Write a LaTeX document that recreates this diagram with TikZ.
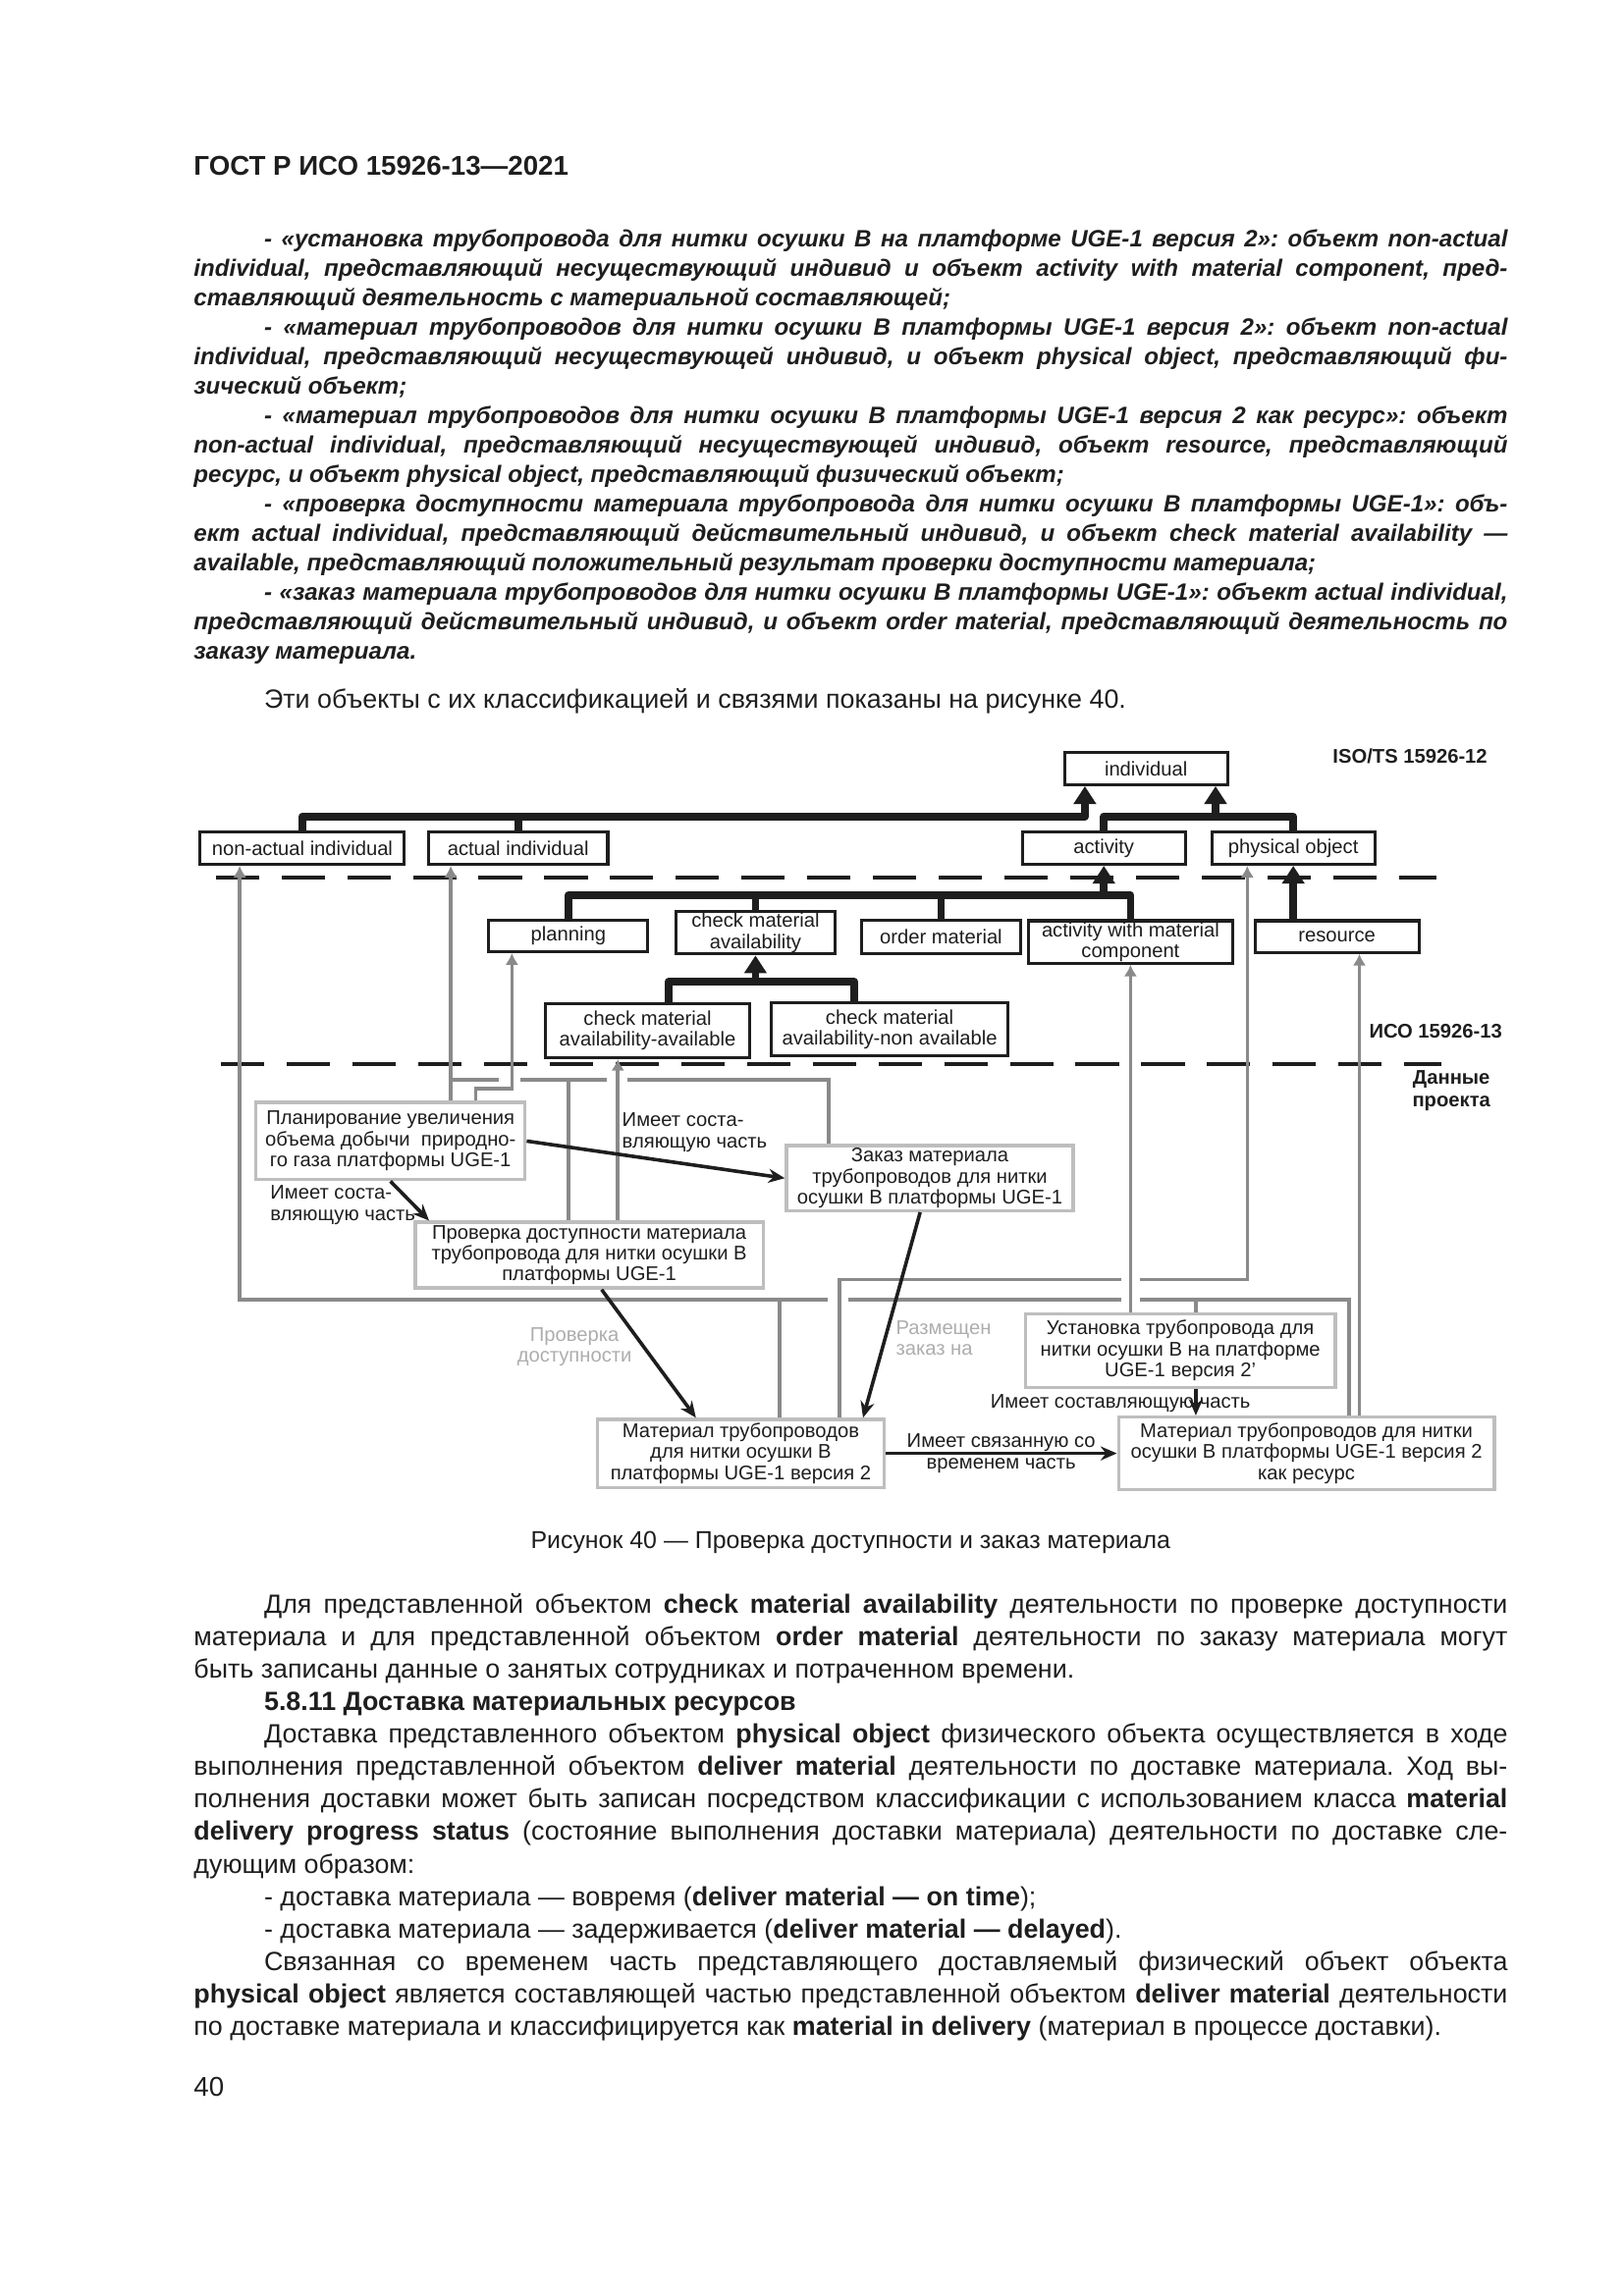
\documentclass[tikz,border=0pt]{standalone}
\usepackage{fontspec}
\setmainfont{Liberation Sans}
\usetikzlibrary{arrows.meta}
\frenchspacing
\definecolor{ink}{HTML}{1E1E1E}
\definecolor{linegray}{HTML}{8A8A8A}
\definecolor{boxgray}{HTML}{BEBEBE}
\definecolor{labgray}{HTML}{ADADAD}
\newcommand{\indt}{\hspace*{9.1mm}}
\tikzset{
  hdr/.style={font=\bfseries\fontsize{10}{12}\selectfont,text=ink,anchor=base west,inner sep=0pt},
  bodytxt/.style={font=\fontsize{9.7}{11.96}\selectfont,text=ink,text width=169.9mm,align=justify,anchor=base west,inner sep=0pt,
    execute at begin node={\hyphenpenalty=10000\exhyphenpenalty=10000}},
  itemtxt/.style={bodytxt,font=\bfseries\itshape\fontsize{8.7}{10.85}\selectfont},
  captxt/.style={font=\fontsize{9}{11}\selectfont,text=ink,anchor=base,inner sep=0pt},
  clsbox/.style={draw=ink,line width=1.1pt,fill=white,font=\fontsize{7.3}{7.7}\selectfont,text=ink,align=center,inner sep=0pt},
  instbox/.style={draw=boxgray,line width=1.2pt,fill=white,font=\fontsize{7.3}{7.7}\selectfont,text=ink,align=center,inner sep=0pt},
  lvltxt/.style={font=\bfseries\fontsize{7.3}{8.4}\selectfont,text=ink,inner sep=0pt},
  reltxt/.style={font=\fontsize{7.3}{7.7}\selectfont,text=ink,align=left,inner sep=0pt},
  divider/.style={draw=ink,line width=1.45pt,dash pattern=on 5.6mm off 2.9mm},
  genbar/.style={draw=ink,line width=2.8pt,line join=round},
  genarr/.style={genbar,-{Triangle[length=2.3mm,width=2.8mm]}},
  gline/.style={draw=linegray,line width=1.3pt},
  isa/.style={gline,-{Latex[length=1.5mm,width=1.7mm]}},
  arr/.style={draw=ink,line width=1.3pt,-{Stealth[length=2.1mm,width=1.8mm]}}
}
\begin{document}
\begin{tikzpicture}[x=1mm,y=-1mm]
\path[use as bounding box] (0,0) rectangle (210,297);

% text above the figure
\node[hdr] (gost) at (25.0,22.7) {ГОСТ Р ИСО 15926-13—2021};
\node[itemtxt] (items) at (25.0,31.9) {%
\indt - «установка трубопровода для нитки осушки В на платформе UGE-1 версия 2»: объект non-actual\linebreak individual, представляющий несуществующий индивид и объект activity with material component, пред-\linebreak ставляющий деятельность с материальной составляющей;\par
\indt - «материал трубопроводов для нитки осушки В платформы UGE-1 версия 2»: объект non-actual\linebreak individual, представляющий несуществующей индивид, и объект physical object, представляющий фи-\linebreak зический объект;\par
\indt - «материал трубопроводов для нитки осушки В платформы UGE-1 версия 2 как ресурс»: объект\linebreak non-actual individual, представляющий несуществующей индивид, объект resource, представляющий\linebreak ресурс, и объект physical object, представляющий физический объект;\par
\indt - «проверка доступности материала трубопровода для нитки осушки В платформы UGE-1»: объ-\linebreak ект actual individual, представляющий действительный индивид, и объект check material availability —\linebreak available, представляющий положительный результат проверки доступности материала;\par
\indt - «заказ материала трубопроводов для нитки осушки В платформы UGE-1»: объект actual individual,\linebreak представляющий действительный индивид, и объект order material, представляющий деятельность по\linebreak заказу материала.};
\node[bodytxt] (intro) at (25.0,91.6) {\indt Эти объекты с их классификацией и связями показаны на рисунке 40.};

% levels
\draw[divider] (27.9,113.5) -- (185.8,113.5);
\draw[divider] (28.6,137.7) -- (186.4,137.7);
\node[lvltxt,anchor=west] (lvl12) at (172.3,97.8) {ISO/TS 15926-12};
\node[lvltxt,anchor=west] (lvl13) at (177.0,133.35) {ИСО 15926-13};
\node[lvltxt,align=center] (lvlprj) at (187.7,141.05) {Данные\\проекта};

% classes
\node[clsbox,minimum width=21.1mm,minimum height=4.2mm] (individual) at (148.2,99.4) {individual};
\node[clsbox,minimum width=26.4mm,minimum height=4.2mm] (nonactual) at (39.1,109.7) {non-actual individual};
\node[clsbox,minimum width=23.2mm,minimum height=4.2mm] (actualind) at (67.0,109.7) {actual individual};
\node[clsbox,minimum width=21.1mm,minimum height=4.2mm] (activity) at (142.75,109.7) {activity};
\node[clsbox,minimum width=21.1mm,minimum height=4.2mm] (physobj) at (167.25,109.7) {physical object};
\node[clsbox,minimum width=20.6mm,minimum height=4.1mm] (planning) at (73.5,121.05) {planning};
\node[clsbox,minimum width=20.6mm,minimum height=5.5mm] (checkav) at (97.7,120.65) {check material\\availability};
\node[clsbox,minimum width=20.6mm,minimum height=4.3mm] (ordermat) at (121.7,121.15) {order material};
\node[clsbox,minimum width=26.4mm,minimum height=5.5mm] (awmc) at (146.2,121.85) {activity with material\\component};
\node[clsbox,minimum width=21.2mm,minimum height=4.1mm] (resource) at (172.9,121.15) {resource};
\node[clsbox,minimum width=26.5mm,minimum height=7.0mm] (cmaavail) at (83.75,133.3) {check material\\availability-available};
\node[clsbox,minimum width=30.7mm,minimum height=6.8mm] (cmanon) at (115.05,133.15) {check material\\availability-non available};

% specialization
\coordinate (topL) at (140.3,105.6);
\coordinate (topR) at (157.2,105.6);
\coordinate (midY) at (0,115.8);
\coordinate (lowY) at (0,127.0);
\draw[genarr] (nonactual.north) |- (topL) -- (topL |- individual.south);
\draw[genbar] (actualind.north) -- (actualind.north |- topL);
\draw[genbar] (activity.north) |- (physobj.north |- topR) -- (physobj.north);
\draw[genarr] (topR) -- (topR |- individual.south);
\draw[genbar] (planning.north) |- (awmc.north |- midY) -- (awmc.north);
\draw[genbar] (checkav.north) -- (checkav.north |- midY);
\draw[genbar] (ordermat.north) -- (ordermat.north |- midY);
\draw[genarr] (activity.south |- midY) -- (activity.south);
\draw[genarr] (physobj.south |- resource.north) -- (physobj.south);
\draw[genbar] ([xshift=2.7mm]cmaavail.north) |- ([xshift=-4.6mm]cmanon.north |- lowY) -- ([xshift=-4.6mm]cmanon.north);
\draw[genarr] (checkav.south |- lowY) -- (checkav.south);

% project data
\node[instbox,minimum width=34.8mm,minimum height=10.0mm] (plan) at (50.5,147.6) {Планирование увеличения\\объема добычи\ \ природно-\\го газа платформы UGE-1};
\node[instbox,minimum width=45.0mm,minimum height=8.5mm] (check) at (76.2,162.35) {Проверка доступности материала\\трубопровода для нитки осушки В\\платформы UGE-1};
\node[instbox,minimum width=37.1mm,minimum height=8.4mm] (order) at (120.25,152.4) {Заказ материала\\трубопроводов для нитки\\осушки В платформы UGE-1};
\node[instbox,minimum width=40.1mm,minimum height=9.5mm] (install) at (152.65,174.7) {Установка трубопровода для\\нитки осушки В на платформе\\UGE-1 версия 2'};
\node[instbox,minimum width=37.0mm,minimum height=8.8mm] (mat) at (95.8,188.0) {Материал трубопроводов\\для нитки осушки В\\платформы UGE-1 версия 2};
\node[instbox,minimum width=48.6mm,minimum height=9.4mm] (matres) at (168.95,188.0) {Материал трубопроводов для нитки\\осушки В платформы UGE-1 версия 2\\как ресурс};

% classification
\coordinate (naL) at (31.0,168.1);
\coordinate (naR) at (174.5,168.1);
\draw[isa] (107.1,168.1) -- (naL) -- (naL |- nonactual.south);
\draw[gline] (109.7,168.1) -- (145.0,168.1) (147.4,168.1) -- (naR) -- (naR |- matres.north);
\draw[gline] ([xshift=5mm]mat.north |- naL) -- ([xshift=5mm]mat.north);
\draw[gline] ([xshift=2mm]install.north |- naL) -- ([xshift=2mm]install.north);
\coordinate (poR) at (161.3,165.5);
\coordinate (poL) at (108.6,165.5);
\draw[isa] (147.4,165.5) -- (poR) -- (poR |- physobj.south);
\draw[gline] (145.0,165.5) -- (poL) -- (poL |- mat.north);
\draw[isa] ([xshift=6.85mm]matres.north) -- ([xshift=6.85mm]matres.north |- resource.south);
\draw[isa] (awmc.south |- install.north) -- (awmc.south);
\coordinate (aiL) at (58.3,139.7);
\coordinate (aiR) at (107.2,139.7);
\draw[isa] (aiL |- plan.north) -- (aiL |- actualind.south);
\draw[gline] (aiL) -- (64.5,139.7) (67.3,139.7) -- (78.5,139.7) (81.2,139.7) -- (aiR) -- (aiR |- order.north);
\draw[gline] ([xshift=-2.7mm]check.north |- aiL) -- ([xshift=-2.7mm]check.north);
\coordinate (plL) at (61.5,140.8);
\coordinate (plR) at (66.2,140.8);
\draw[isa] (plL |- plan.north) -- (plL) -- (plR) -- (plR |- planning.south);
\draw[isa] ([xshift=3.7mm]check.north) -- ([xshift=3.7mm]check.north |- cmaavail.south);

% relations
\draw[arr] (plan.east) -- (order.west);
\draw[arr] (plan.south) -- ([xshift=2mm]check.north west);
\draw[arr] ([xshift=1.6mm]check.south) -- ([xshift=-5.8mm]mat.north);
\draw[arr] ([xshift=-1.25mm]order.south) -- ([xshift=-2.9mm]mat.north east);
\draw[arr] ([xshift=2mm]install.south) -- ([xshift=2mm]install.south |- matres.north);
\draw[arr] (mat.east) -- (matres.west) node[midway,reltxt,align=center] (lbltime) {Имеет связанную со\\временем часть};
\node[reltxt,anchor=north west] (lblpart1) at (34.9,153.3) {Имеет соста-\\вляющую часть};
\node[reltxt,anchor=north west] (lblpart2) at (80.4,143.9) {Имеет соста-\\вляющую часть};
\node[reltxt,text=labgray,align=center] (lblcheck) at (74.3,174.2) {Проверка\\доступности};
\node[reltxt,text=labgray,anchor=north west] (lblorder) at (115.8,170.8) {Размещен\\заказ на};
\node[reltxt] (lblpart3) at (144.9,181.55) {Имеет составляющую часть};

% text below the figure
\node[captxt] (caption) at (110.0,200.3) {Рисунок 40 — Проверка доступности и заказ материала};
\node[bodytxt] (body) at (25.0,208.65) {%
\indt Для представленной объектом \textbf{check material availability} деятельности по проверке доступности\linebreak материала и для представленной объектом \textbf{order material} деятельности по заказу материала могут\linebreak быть записаны данные о занятых сотрудниках и потраченном времени.\par
\indt\textbf{5.8.11 Доставка материальных ресурсов}\par
\indt Доставка представленного объектом \textbf{physical object} физического объекта осуществляется в ходе\linebreak выполнения представленной объектом \textbf{deliver material} деятельности по доставке материала. Ход вы-\linebreak полнения доставки может быть записан посредством классификации с использованием класса \textbf{material}\linebreak \textbf{delivery progress status} (состояние выполнения доставки материала) деятельности по доставке сле-\linebreak дующим образом:\par
\indt - доставка материала — вовремя (\textbf{deliver material — on time});\par
\indt - доставка материала — задерживается (\textbf{deliver material — delayed}).\par
\indt Связанная со временем часть представляющего доставляемый физический объект объекта\linebreak \textbf{physical object} является составляющей частью представленной объектом \textbf{deliver material} деятельности\linebreak по доставке материала и классифицируется как \textbf{material in delivery} (материал в процессе доставки).};
\node[hdr,font=\fontsize{10}{12}\selectfont] (pagenum) at (25.0,271.1) {40};
\end{tikzpicture}
\end{document}
